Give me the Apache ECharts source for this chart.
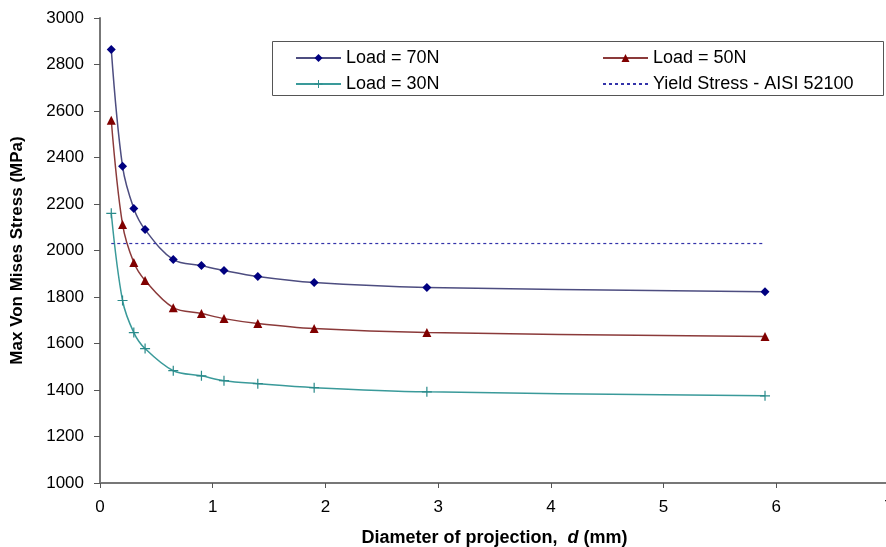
<!DOCTYPE html>
<html>
<head>
<meta charset="utf-8">
<script src="https://cdn.jsdelivr.net/npm/echarts@6/dist/echarts.min.js"></script>
<style>
  html, body { margin: 0; padding: 0; background: #fff; }
  #chart { width: 886px; height: 547px; }
</style>
</head>
<body>
<div id="chart"></div>
<script>
// diameter of projection d (mm)
const diameters = [0.1, 0.2, 0.3, 0.4, 0.65, 0.9, 1.1, 1.4, 1.9, 2.9, 5.9]
// max von mises stress (MPa)
const load70 = [2865, 2362, 2181, 2090, 1961, 1935, 1914, 1888, 1862, 1841, 1823]
const load50 = [2560, 2112, 1948, 1871, 1754, 1729, 1707, 1686, 1664, 1647, 1630]
const load30 = [2160, 1785, 1647, 1578, 1483, 1461, 1440, 1427, 1410, 1392, 1375]
const yieldStress = 2030
const yieldRange = [0.1, 5.9]
const seriesNames = ['Load = 70N', 'Load = 50N', 'Load = 30N', 'Yield Stress - AISI 52100']

const fontFamily = 'Arial, "Liberation Sans", sans-serif'
const plusPath = 'path://M4.4,0h1.2v4.4h4.4v1.2h-4.4v4.4h-1.2v-4.4h-4.4v-1.2h4.4z'

function pairs(xs, ys) {
  return xs.map((x, i) => [x, ys[i]])
}

const chart = echarts.init(document.getElementById('chart'))

const legendText = {
  color: '#000',
  fontSize: 18,
  fontFamily: fontFamily
}

chart.setOption({
  animation: false,
  grid: {
    left: 100,
    right: -3,
    top: 18,
    bottom: 64,
    outerBoundsMode: 'none',
    containLabel: false
  },
  graphic: [{
    type: 'rect',
    shape: { x: 272.5, y: 41.5, width: 611, height: 54 },
    style: { fill: '#fff', stroke: '#555', lineWidth: 1 },
    z: 90
  }],
  legend: [{
    data: [seriesNames[0], seriesNames[2]],
    orient: 'vertical',
    left: 290,
    top: 44,
    itemWidth: 45,
    itemHeight: 10,
    itemGap: 8,
    textStyle: legendText,
    z: 100
  }, {
    data: [seriesNames[1], { name: seriesNames[3], itemStyle: { opacity: 0 } }],
    orient: 'vertical',
    left: 597,
    top: 44,
    itemWidth: 45,
    itemHeight: 10,
    itemGap: 8,
    textStyle: legendText,
    z: 100
  }],
  xAxis: {
    type: 'value',
    min: 0,
    max: 7,
    interval: 1,
    name: '{b|Diameter of projection,  }{i|d}{b| (mm)}',
    nameLocation: 'middle',
    nameGap: 46,
    nameTextStyle: {
      rich: {
        b: { fontSize: 18, fontWeight: 'bold', fontFamily: fontFamily, color: '#000' },
        i: { fontSize: 18, fontWeight: 'bold', fontStyle: 'italic', fontFamily: fontFamily, color: '#000' }
      }
    },
    axisLine: { lineStyle: { color: '#777', width: 2 } },
    axisTick: { show: true, length: 5, lineStyle: { color: '#555' } },
    axisLabel: { color: '#000', fontSize: 17, fontFamily: fontFamily, margin: 16 },
    splitLine: { show: false }
  },
  yAxis: {
    type: 'value',
    min: 1000,
    max: 3000,
    interval: 200,
    name: 'Max Von Mises Stress (MPa)',
    nameLocation: 'middle',
    nameGap: 74,
    nameTextStyle: { fontSize: 17, fontWeight: 'bold', fontFamily: fontFamily, color: '#000' },
    axisLine: { show: true, lineStyle: { color: '#777', width: 2 } },
    axisTick: { show: true, length: 6, lineStyle: { color: '#555' } },
    axisLabel: {
      color: '#000',
      fontSize: 17,
      fontFamily: fontFamily,
      margin: 16,
      formatter: v => String(v)
    },
    splitLine: { show: false }
  },
  series: [
    {
      name: seriesNames[0],
      type: 'line',
      smooth: 0.35,
      data: pairs(diameters, load70),
      symbol: 'diamond',
      symbolSize: 9,
      lineStyle: { color: '#4d4d80', width: 1.5 },
      itemStyle: { color: '#000080' }
    },
    {
      name: seriesNames[1],
      type: 'line',
      smooth: 0.35,
      data: pairs(diameters, load50),
      symbol: 'triangle',
      symbolSize: 9,
      lineStyle: { color: '#8b3a3a', width: 1.5 },
      itemStyle: { color: '#800000' }
    },
    {
      name: seriesNames[2],
      type: 'line',
      smooth: 0.35,
      data: pairs(diameters, load30),
      symbol: plusPath,
      symbolSize: 10,
      lineStyle: { color: '#3a9a9a', width: 1.5 },
      itemStyle: { color: '#2a8a8a' }
    },
    {
      name: seriesNames[3],
      type: 'line',
      data: yieldRange.map(x => [x, yieldStress]),
      symbol: 'none',
      lineStyle: { color: '#3333aa', width: 1.2, type: [3, 3] },
      itemStyle: { color: '#3333aa' }
    }
  ]
})
</script>
</body>
</html>
